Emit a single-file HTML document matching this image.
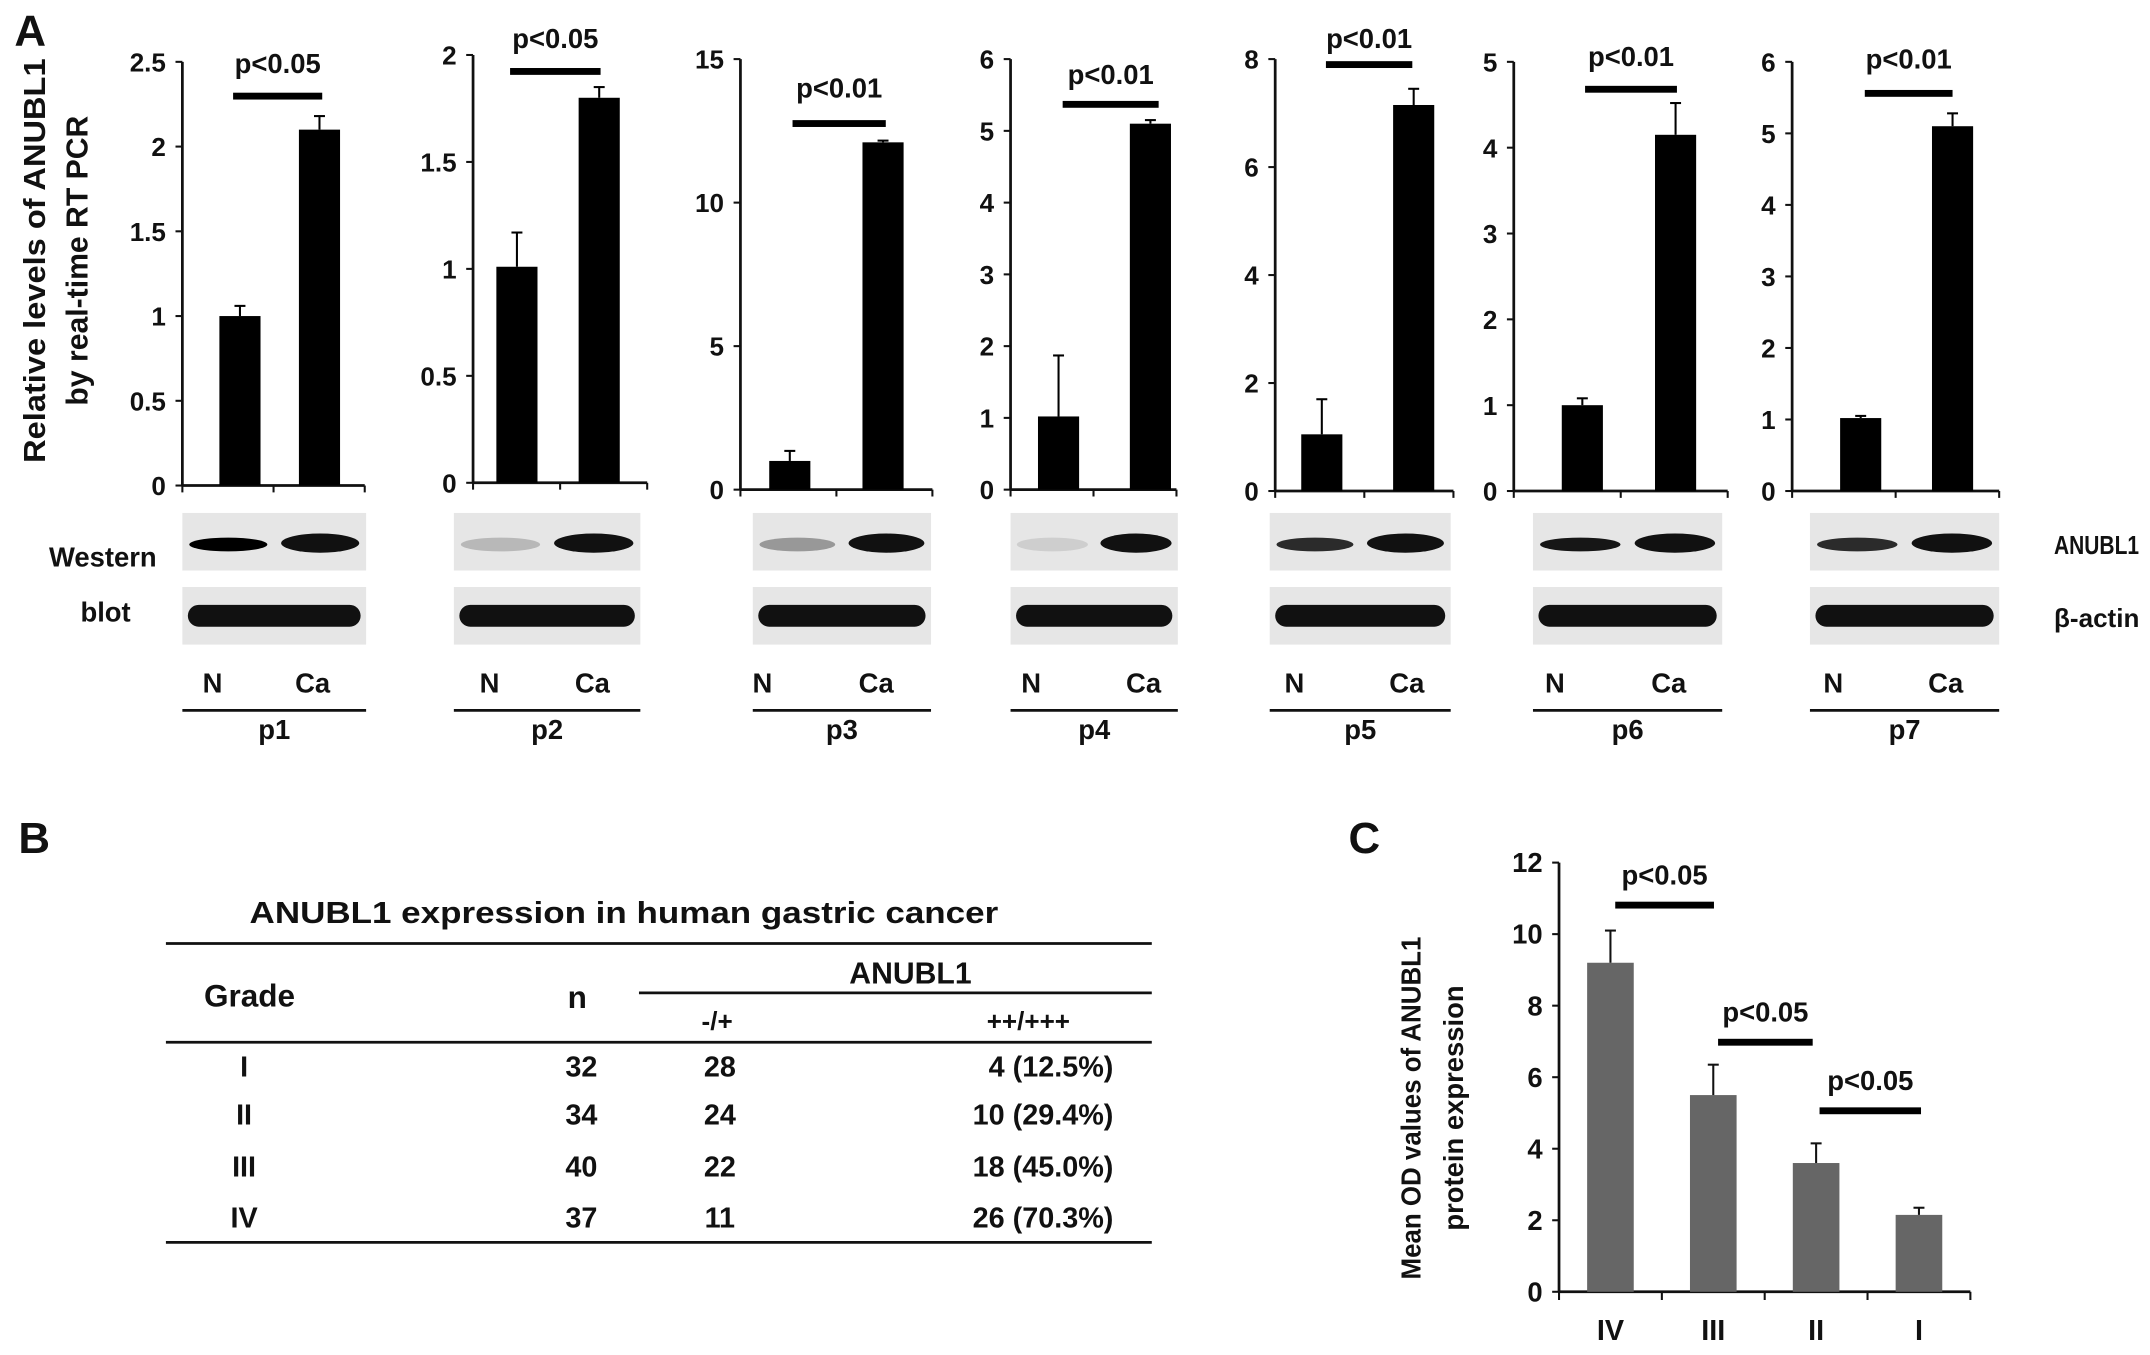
<!DOCTYPE html>
<html><head><meta charset="utf-8"><style>
html,body{margin:0;padding:0;background:#fff;}
svg{display:block;}
text{font-family:"Liberation Sans",sans-serif;font-weight:bold;fill:#111;}
</style></head><body>
<svg id="fig" width="2150" height="1355" viewBox="0 0 1568 988"></svg>
<script>
// Panel A data
const patients = ["p1","p2","p3","p4","p5","p6","p7"];
const pValues = ["p<0.05","p<0.05","p<0.01","p<0.01","p<0.01","p<0.01","p<0.01"];
const yMaxA = [2.5,2,15,6,8,5,6];
const tickStepA = [0.5,0.5,5,1,2,1,1];
const normalVals = [1.0,1.01,1.0,1.02,1.05,1.0,1.02];
const normalErr = [0.06,0.16,0.35,0.85,0.65,0.08,0.03];
const cancerVals = [2.1,1.8,12.1,5.1,7.15,4.15,5.1];
const cancerErr = [0.08,0.05,0.06,0.05,0.3,0.37,0.18];
// Panel C data
const gradesC = ["IV","III","II","I"];
const odVals = [9.2,5.5,3.6,2.15];
const odErr = [0.9,0.85,0.55,0.2];
const yTicksC = [0,2,4,6,8,10,12];
// Panel B table
const tableRows = [["I","32","28","4 (12.5%)"],["II","34","24","10 (29.4%)"],["III","40","22","18 (45.0%)"],["IV","37","11","26 (70.3%)"]];

const svg=document.getElementById('fig');
const NS='http://www.w3.org/2000/svg';
function el(tag,attrs,parent){const e=document.createElementNS(NS,tag);for(const k in attrs)e.setAttribute(k,attrs[k]);(parent||svg).appendChild(e);return e;}
function txt(s,x,y,size,anchor,parent,extra){const t=el('text',Object.assign({x:x,y:y,'font-size':size,'text-anchor':anchor||'middle'},extra||{}),parent);t.textContent=s;return t;}

const layA=[
 {ax:133,top:45,bot:354,r:266,n:175,c:233,py:53,ly:70,l1:170,l2:235,bx:133,bw:134},
 {ax:345,top:40,bot:352,r:472,n:377,c:437,py:35,ly:52,l1:372,l2:438,bx:331,bw:136},
 {ax:540,top:43,bot:357,r:680,n:576,c:644,py:71,ly:90,l1:578,l2:646,bx:549,bw:130},
 {ax:737,top:43,bot:357,r:858,n:772,c:839,py:61,ly:76,l1:775,l2:845,bx:737,bw:122},
 {ax:930,top:43,bot:358,r:1060,n:964,c:1031,py:35,ly:47,l1:967,l2:1030,bx:926,bw:132},
 {ax:1104,top:45,bot:358,r:1260,n:1154,c:1222,py:48,ly:65,l1:1156,l2:1223,bx:1118,bw:138},
 {ax:1307,top:45,bot:358,r:1458,n:1357,c:1424,py:50,ly:68,l1:1360,l2:1424,bx:1320,bw:138}
];
const bw=30;
txt('A',22,33,32,'middle');
const yl=el('g',{transform:'translate(33,190) rotate(-90)'});

txt('Relative levels of ANUBL1',0,0,22,'middle',yl,{textLength:295,lengthAdjust:'spacingAndGlyphs'});
txt('by real-time RT PCR',0,31,22,'middle',yl);

patients.forEach((p,i)=>{
 const L=layA[i];
 const g=el('g',{});
 
 
 const y=v=>L.bot-(v/yMaxA[i])*(L.bot-L.top);
 el('line',{x1:L.ax,y1:L.top,x2:L.ax,y2:L.bot,stroke:'#111','stroke-width':2},g);
 el('line',{x1:L.ax,y1:L.bot,x2:L.r,y2:L.bot,stroke:'#111','stroke-width':2},g);
 const mid=(L.ax+L.r)/2;
 [L.ax,mid,L.r].forEach(x=>el('line',{x1:x,y1:L.bot,x2:x,y2:L.bot+5,stroke:'#111','stroke-width':1.5},g));
 for(let v=0;v<=yMaxA[i]+1e-9;v+=tickStepA[i]){
  const yy=y(v);
  el('line',{x1:L.ax-5,y1:yy,x2:L.ax,y2:yy,stroke:'#111','stroke-width':1.5},g);
  txt(String(Math.round(v*10)/10),L.ax-12,yy+7,19,'end',g);
 }
 [[L.n,normalVals[i],normalErr[i],'normal'],[L.c,cancerVals[i],cancerErr[i],'cancer']].forEach(([cx,v,e,nm])=>{
  const r=el('rect',{x:cx-bw/2,y:y(v),width:bw,height:L.bot-y(v),fill:'#000'},g);
  
  
  el('line',{x1:cx,y1:y(v),x2:cx,y2:y(v+e),stroke:'#000','stroke-width':1.5},g);
  el('line',{x1:cx-4,y1:y(v+e),x2:cx+4,y2:y(v+e),stroke:'#000','stroke-width':1.5},g);
 });
 txt(pValues[i],(L.l1+L.l2)/2,L.py,20,'middle',g);
 el('rect',{x:L.l1,y:L.ly-2.5,width:L.l2-L.l1,height:5,fill:'#000'},g);
 const wb=el('g',{},g);
 
 
 el('rect',{x:L.bx,y:374,width:L.bw,height:42,fill:'#e6e6e6'},wb);
 el('rect',{x:L.bx,y:428,width:L.bw,height:42,fill:'#e6e6e6'},wb);
 const q=L.bw/4;
 const nDark=[1,0.15,0.3,0.05,0.8,0.9,0.8][i];
 const bandN=Math.round(255*(1-nDark)*0.85);
 el('ellipse',{cx:L.bx+q,cy:397,rx:q*0.85,ry:5,fill:`rgb(${bandN},${bandN},${bandN})`},wb);
 el('ellipse',{cx:L.bx+3*q,cy:396,rx:q*0.85,ry:7,fill:'#111'},wb);
 el('rect',{x:L.bx+4,y:441,width:L.bw-8,height:16,rx:8,fill:'#111'},wb);
 txt('N',L.n-20,505,20,'middle',g);
 txt('Ca',L.c-5,505,20,'middle',g);
 el('line',{x1:L.bx,y1:518,x2:L.bx+L.bw,y2:518,stroke:'#111','stroke-width':2},g);
 txt(p,L.bx+L.bw/2,539,20,'middle',g);
});
txt('Western',75,413,20,'middle');
txt('blot',77,453,20,'middle');
txt('ANUBL1',1498,404,19,'start',svg,{textLength:62,lengthAdjust:'spacingAndGlyphs'});
txt('β-actin',1498,457,19,'start');

// Panel B
txt('B',25,622,32,'middle');
const tb=el('g',{});


txt('ANUBL1 expression in human gastric cancer',455,673,22,'middle',tb,{textLength:546,lengthAdjust:'spacingAndGlyphs'});
[[121,840,688],[466,840,724],[121,840,760],[121,840,906]].forEach(([a,b,yy])=>el('line',{x1:a,y1:yy,x2:b,y2:yy,stroke:'#111','stroke-width':2},tb));
txt('Grade',182,734,23,'middle',tb);
txt('n',421,735,23,'middle',tb);
txt('ANUBL1',664,717,22,'middle',tb);
txt('-/+',523,751,19,'middle',tb);
txt('++/+++',750,751,19,'middle',tb);
const rowY=[785,820,858,895];
tableRows.forEach((r,k)=>{
 txt(r[0],178,rowY[k],21,'middle',tb);
 txt(r[1],424,rowY[k],21,'middle',tb);
 txt(r[2],525,rowY[k],21,'middle',tb);
 txt(r[3],812,rowY[k],21,'end',tb);
});

// Panel C
txt('C',995,622,32,'middle');
const gc=el('g',{});


const cAx=1137,cTop=629,cBot=942,cR=1437,cMax=12;
const yc=v=>cBot-(v/cMax)*(cBot-cTop);
el('line',{x1:cAx,y1:cTop,x2:cAx,y2:cBot,stroke:'#111','stroke-width':2},gc);
el('line',{x1:cAx,y1:cBot,x2:cR,y2:cBot,stroke:'#111','stroke-width':2},gc);
for(let k=0;k<=gradesC.length;k++){const x=cAx+k*(cR-cAx)/gradesC.length;el('line',{x1:x,y1:cBot,x2:x,y2:cBot+6,stroke:'#111','stroke-width':1.5},gc);}
yTicksC.forEach(v=>{el('line',{x1:cAx-5,y1:yc(v),x2:cAx,y2:yc(v),stroke:'#111','stroke-width':1.5},gc);txt(String(v),cAx-12,yc(v)+7,20,'end',gc);});
gradesC.forEach((gname,k)=>{
 const cx=cAx+(k+0.5)*(cR-cAx)/gradesC.length;
 const r=el('rect',{x:cx-17,y:yc(odVals[k]),width:34,height:cBot-yc(odVals[k]),fill:'#666'},gc);
 
 
 el('line',{x1:cx,y1:yc(odVals[k]),x2:cx,y2:yc(odVals[k]+odErr[k]),stroke:'#111','stroke-width':1.5},gc);
 el('line',{x1:cx-4,y1:yc(odVals[k]+odErr[k]),x2:cx+4,y2:yc(odVals[k]+odErr[k]),stroke:'#111','stroke-width':1.5},gc);
 txt(gname,cx,977,21,'middle',gc);
});
[[1178,1250,660,645],[1253,1322,760,745],[1327,1401,810,795]].forEach(([a,b,ly,py])=>{
 el('rect',{x:a,y:ly-2.5,width:b-a,height:5,fill:'#000'},gc);
 txt('p<0.05',(a+b)/2,py,20,'middle',gc);
});
const ylc=el('g',{transform:'translate(1036,808) rotate(-90)'});

txt('Mean OD values of ANUBL1',0,0,20,'middle',ylc,{textLength:250,lengthAdjust:'spacingAndGlyphs'});
txt('protein expression',0,31,20,'middle',ylc);
</script>
</body></html>
